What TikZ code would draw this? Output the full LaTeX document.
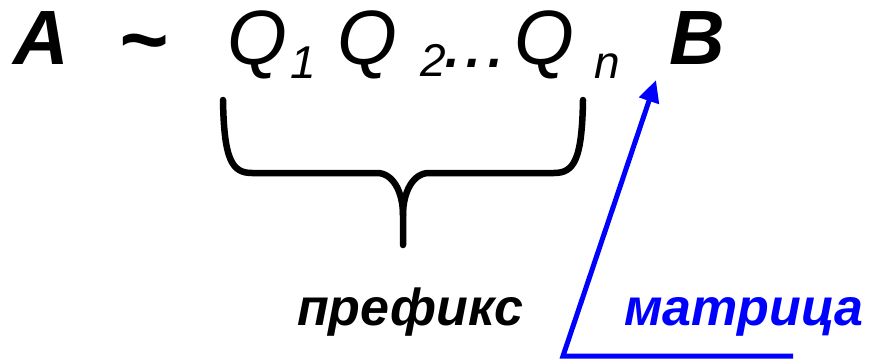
\documentclass[tikz,border=0pt]{standalone}
\usepackage{fontspec}
\setmainfont{Liberation Sans}
\usetikzlibrary{arrows.meta}
\definecolor{pureblue}{RGB}{0,0,255}
\tikzset{
  big/.style={anchor=base west, inner sep=0pt, font=\fontsize{77}{82}\selectfont\itshape},
  bigbold/.style={big, font=\fontsize{77}{82}\selectfont\bfseries\itshape},
  tildestyle/.style={anchor=base west, inner sep=0pt, font=\fontsize{84}{90}\selectfont\bfseries\itshape},
  sub/.style={anchor=base west, inner sep=0pt, font=\fontsize{46}{52}\selectfont\itshape},
  label/.style={anchor=base west, inner sep=0pt, font=\fontsize{52}{58}\selectfont\bfseries\itshape},
  bracestyle/.style={line width=6.5pt, line cap=round, line join=round},
  bluearrow/.style={pureblue, line width=5pt, line join=miter, -{Triangle[length=22pt,width=20pt]}}
}
\begin{document}
\begin{tikzpicture}[x=1pt,y=-1pt]
\useasboundingbox (0,0) rectangle (875,361);
\node[bigbold] (A) at (13,65) {A};
\node[tildestyle] (tilde) at (118,68) {\char`\~};
\node[big] (Q1) at (227,65) {Q};
\node[sub] (s1) at (290,78) {1};
\node[big] (Q2) at (337,65) {Q};
\node[sub] (s2) at (420,77) {2};
\node[big] (dots) at (443,67) {...};
\node[big] (Q3) at (514,65) {Q};
\node[sub] (sn) at (594,78) {n};
\node[bigbold] (B) at (669,65) {B};
% brace
\draw[bracestyle] (223,100) .. controls (224,160) and (232,173) .. (252,173)
  -- (377,173) .. controls (393,173) and (403,192) .. (403,215) -- (403,245);
\draw[bracestyle] (583,100) .. controls (582,160) and (574,173) .. (554,173)
  -- (429,173) .. controls (413,173) and (403,192) .. (403,215);
\node[label] (pref) at (297,325) {префикс};
\node[label, text=pureblue] (matr) at (624,325) {матрица};
\coordinate (tip) at (656,80);
\coordinate (corner) at (563,356);
\coordinate (lineend) at (793,356);
\draw[bluearrow] (lineend) -- (corner) -- (tip);
\end{tikzpicture}
\end{document}
